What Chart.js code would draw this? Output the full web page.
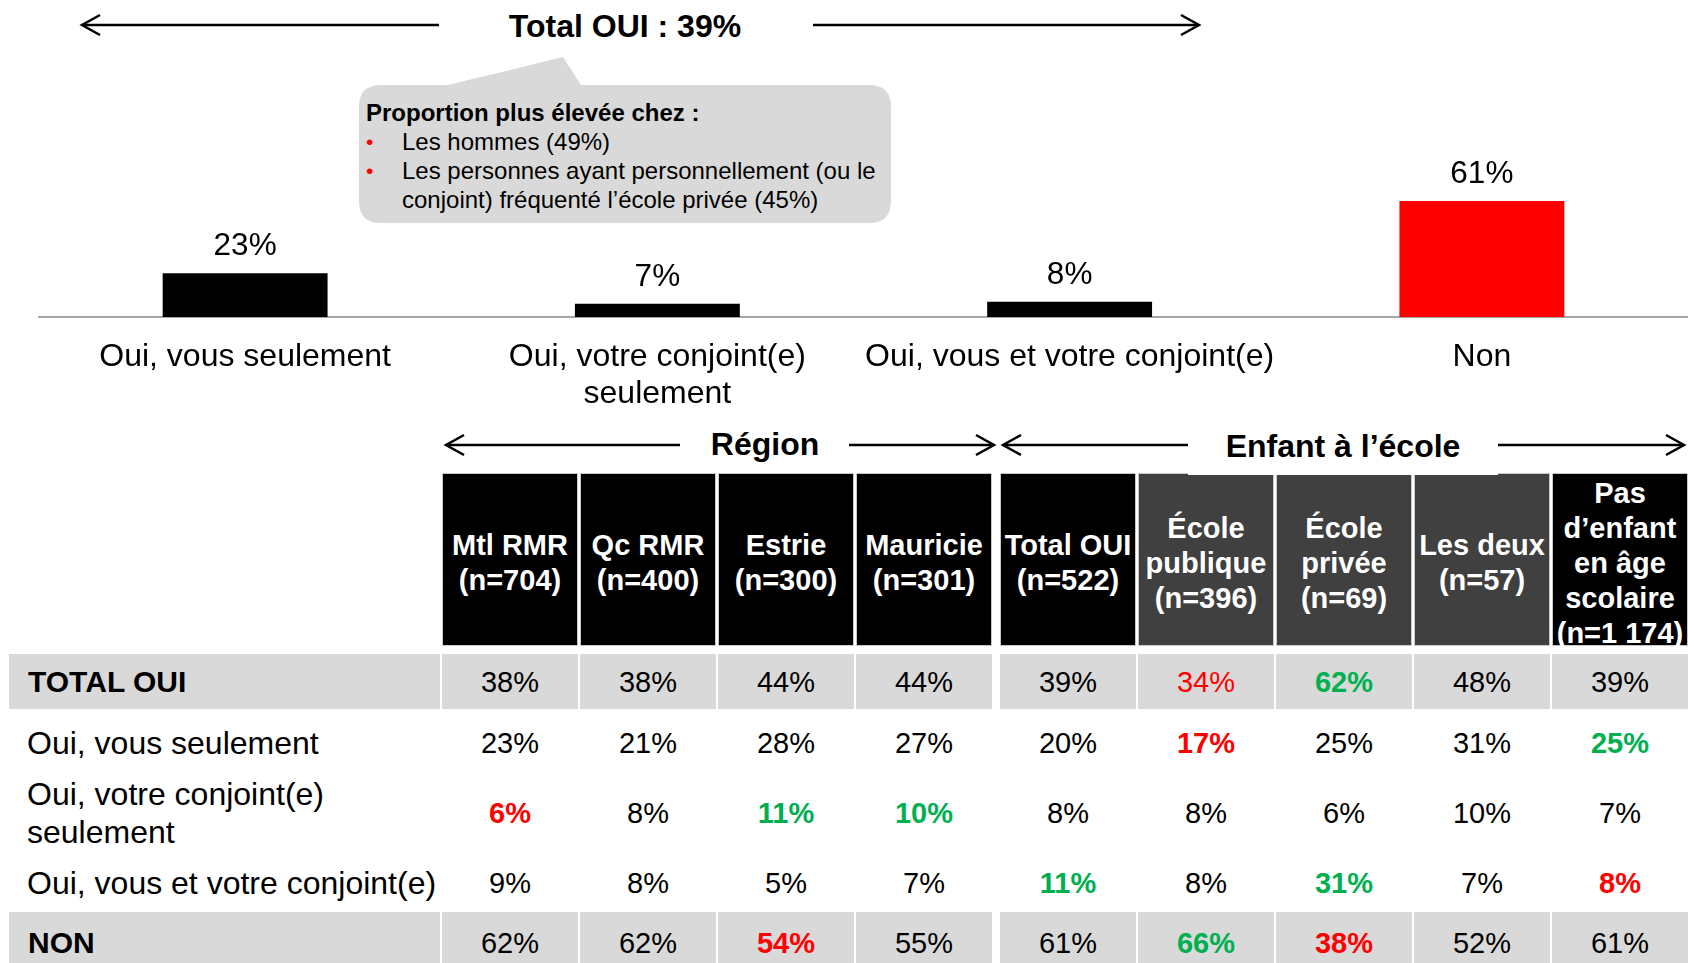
<!DOCTYPE html>
<html><head><meta charset="utf-8">
<script src="https://cdn.jsdelivr.net/npm/chart.js@4"></script>
<style>
html,body{margin:0;padding:0;background:#fff;}
body{width:1688px;height:963px;position:relative;overflow:hidden;font-family:"Liberation Sans",Arial,Helvetica,sans-serif;color:#000;}
#chartWrap{position:absolute;left:0;top:0;width:1688px;height:410px;}
.abs{position:absolute;}
.title{font-weight:bold;font-size:32px;white-space:nowrap;transform:translate(-50%,-50%);line-height:1;}
.hdr{position:absolute;top:473px;height:173px;padding-top:7px;color:#fff;font-weight:bold;font-size:29px;line-height:35px;display:flex;align-items:center;justify-content:center;text-align:center;box-sizing:border-box;border:1px solid #c8c8c8;white-space:nowrap;overflow:visible;}
.band{position:absolute;background:#d9d9d9;}
.val{position:absolute;font-size:29px;transform:translate(-50%,-50%);white-space:nowrap;line-height:1;}
.lab{position:absolute;font-size:32px;white-space:nowrap;line-height:38px;transform:translateY(-50%);}
.callout{position:absolute;font-size:24px;white-space:nowrap;line-height:29px;}
</style></head><body>

<svg class="abs" style="left:0;top:0" width="1688" height="963">
  <path d="M381,85 L448,85 L563,57 L581,85 L869,85 Q891,85 891,107 L891,201 Q891,223 869,223 L381,223 Q359,223 359,201 L359,107 Q359,85 381,85 Z" fill="#d9d9d9"/>
  <g stroke="#000" stroke-width="2.5" fill="none">
    <line x1="82" y1="25" x2="439" y2="25"/><polyline points="100,15 82,25 100,35"/>
    <line x1="813" y1="25" x2="1199" y2="25"/><polyline points="1181,15 1199,25 1181,35"/>
    <line x1="446" y1="445" x2="680" y2="445"/><polyline points="464,435 446,445 464,455"/>
    <line x1="849" y1="445" x2="994" y2="445"/><polyline points="976,435 994,445 976,455"/>
    <line x1="1003" y1="445" x2="1188" y2="445"/><polyline points="1021,435 1003,445 1021,455"/>
    <line x1="1498" y1="445" x2="1684" y2="445"/><polyline points="1666,435 1684,445 1666,455"/>
  </g>
</svg>

<div class="abs title" style="left:625px;top:26px;">Total OUI : 39%</div>

<div class="callout" style="left:366px;top:98px;font-weight:bold;">Proportion plus élevée chez :</div>
<div class="callout" style="left:366px;top:127px;color:#f00;font-size:21px;">•</div>
<div class="callout" style="left:402px;top:127px;">Les hommes (49%)</div>
<div class="callout" style="left:366px;top:156px;color:#f00;font-size:21px;">•</div>
<div class="callout" style="left:402px;top:156px;">Les personnes ayant personnellement (ou le<br>conjoint) fréquenté l’école privée (45%)</div>

<div id="chartWrap"><canvas id="c" width="1688" height="410"></canvas></div>

<div id="table"></div>

<script>
// ---- Bar chart data ----
const barCategories = [['Oui, vous seulement'], ['Oui, votre conjoint(e)', 'seulement'], ['Oui, vous et votre conjoint(e)'], ['Non']];
const barValues = [23, 7, 8, 61];

// ---- Table data ----
const regionHeaders = [['Mtl RMR', '(n=704)'], ['Qc RMR', '(n=400)'], ['Estrie', '(n=300)'], ['Mauricie', '(n=301)']];
const schoolHeaders = [['Total OUI', '(n=522)'], ['École', 'publique', '(n=396)'], ['École', 'privée', '(n=69)'], ['Les deux', '(n=57)'], ['Pas', 'd’enfant', 'en âge', 'scolaire', '(n=1\u00a0174)']];
const rowLabels = [['TOTAL OUI'], ['Oui, vous seulement'], ['Oui, votre conjoint(e)', 'seulement'], ['Oui, vous et votre conjoint(e)'], ['NON']];
const totalOui       = [38, 38, 44, 44, 39, 34, 62, 48, 39];
const vousSeulement  = [23, 21, 28, 27, 20, 17, 25, 31, 25];
const conjointSeul   = [6, 8, 11, 10, 8, 8, 6, 10, 7];
const vousEtConjoint = [9, 8, 5, 7, 11, 8, 31, 7, 8];
const non            = [62, 62, 54, 55, 61, 66, 38, 52, 61];
// significance: H = higher (green), L = lower (red), l = lower (red, regular weight)
const totalOuiSig       = ['', '', '', '', '', 'l', 'H', '', ''];
const vousSeulementSig  = ['', '', '', '', '', 'L', '', '', 'H'];
const conjointSeulSig   = ['L', '', 'H', 'H', '', '', '', '', ''];
const vousEtConjointSig = ['', '', '', '', 'H', '', 'H', '', 'L'];
const nonSig            = ['', '', 'L', '', '', 'H', 'L', '', ''];

// ---- Bar chart ----
const valueLabels = {
  id: 'valueLabels',
  afterDatasetsDraw(chart) {
    const ctx = chart.ctx;
    const meta = chart.getDatasetMeta(0);
    ctx.save();
    ctx.font = '31.5px "Liberation Sans", Arial, sans-serif';
    ctx.fillStyle = '#000';
    ctx.textAlign = 'center';
    ctx.textBaseline = 'alphabetic';
    meta.data.forEach((bar, i) => {
      ctx.fillText(chart.data.datasets[0].data[i] + '%', bar.x, bar.y - 18);
    });
    ctx.restore();
  }
};

new Chart(document.getElementById('c'), {
  type: 'bar',
  data: {
    labels: barCategories,
    datasets: [{
      data: barValues,
      backgroundColor: ['#000000', '#000000', '#000000', '#ff0000'],
      borderWidth: 0,
      barPercentage: 0.4,
      categoryPercentage: 1.0
    }]
  },
  options: {
    responsive: false,
    animation: false,
    layout: { padding: { left: 39, right: 0, top: 127, bottom: 0 } },
    plugins: { legend: { display: false }, tooltip: { enabled: false } },
    scales: {
      x: {
        grid: { display: false, drawTicks: false },
        border: { display: true, color: '#a6a6a6', width: 2 },
        ticks: { color: '#000', padding: 21, font: { size: 32, family: '"Liberation Sans", Arial, sans-serif', lineHeight: 1.18 }, maxRotation: 0, autoSkip: false },
        afterFit(scale) { scale.height = 93; }
      },
      y: { display: false, min: 0, max: 100 }
    }
  },
  plugins: [valueLabels]
});

// ---- Table (HTML built from arrays) ----
const tbl = document.getElementById('table');
function el(cls, style, html) {
  const d = document.createElement('div');
  d.className = cls; d.setAttribute('style', style); d.innerHTML = html;
  tbl.appendChild(d); return d;
}
// column geometry
const cols = [];
for (let i = 0; i < 4; i++) cols.push({ x: 442 + i * 138, w: 136 });
for (let j = 0; j < 5; j++) cols.push({ x: 1000 + j * 138, w: 136 });
const headerFill = ['#000', '#000', '#000', '#000', '#000', '#404040', '#404040', '#404040', '#000'];
const headers = regionHeaders.concat(schoolHeaders);
headers.forEach((h, i) => {
  el('hdr', `left:${cols[i].x}px;width:${cols[i].w}px;background:${headerFill[i]};`, h.join('<br>'));
});
// white box behind "Enfant à l'école"
el('abs', 'left:1188px;top:428px;width:310px;height:47px;background:#fff;', '');
el('abs title', 'left:765px;top:444px;', 'Région');
el('abs title', 'left:1343px;top:446px;', 'Enfant à l’école');

const rows = [
  { vals: totalOui, sig: totalOuiSig, band: [654, 709], cy: 682, bold: true },
  { vals: vousSeulement, sig: vousSeulementSig, band: null, cy: 743, bold: false },
  { vals: conjointSeul, sig: conjointSeulSig, band: null, cy: 813, bold: false },
  { vals: vousEtConjoint, sig: vousEtConjointSig, band: null, cy: 883, bold: false },
  { vals: non, sig: nonSig, band: [912, 975], cy: 943, bold: true }
];
rows.forEach((r, ri) => {
  if (r.band) {
    el('band', `left:9px;top:${r.band[0]}px;width:431px;height:${r.band[1] - r.band[0]}px;`, '');
    cols.forEach(c => el('band', `left:${c.x}px;top:${r.band[0]}px;width:${c.w}px;height:${r.band[1] - r.band[0]}px;`, ''));
  }
  el('lab', `left:${r.bold ? 28 : 27}px;top:${r.cy}px;font-weight:${r.bold ? 'bold' : 'normal'};font-size:${r.bold ? 30 : 32}px;`, rowLabels[ri].join('<br>'));
  r.vals.forEach((v, ci) => {
    const s = r.sig[ci];
    const color = (s === 'H') ? '#00b050' : (s === 'L' || s === 'l') ? '#ff0000' : '#000';
    const weight = (s === 'H' || s === 'L') ? 'bold' : 'normal';
    el('val', `left:${cols[ci].x + cols[ci].w / 2}px;top:${r.cy}px;color:${color};font-weight:${weight};`, v + '%');
  });
});
</script>
</body></html>
